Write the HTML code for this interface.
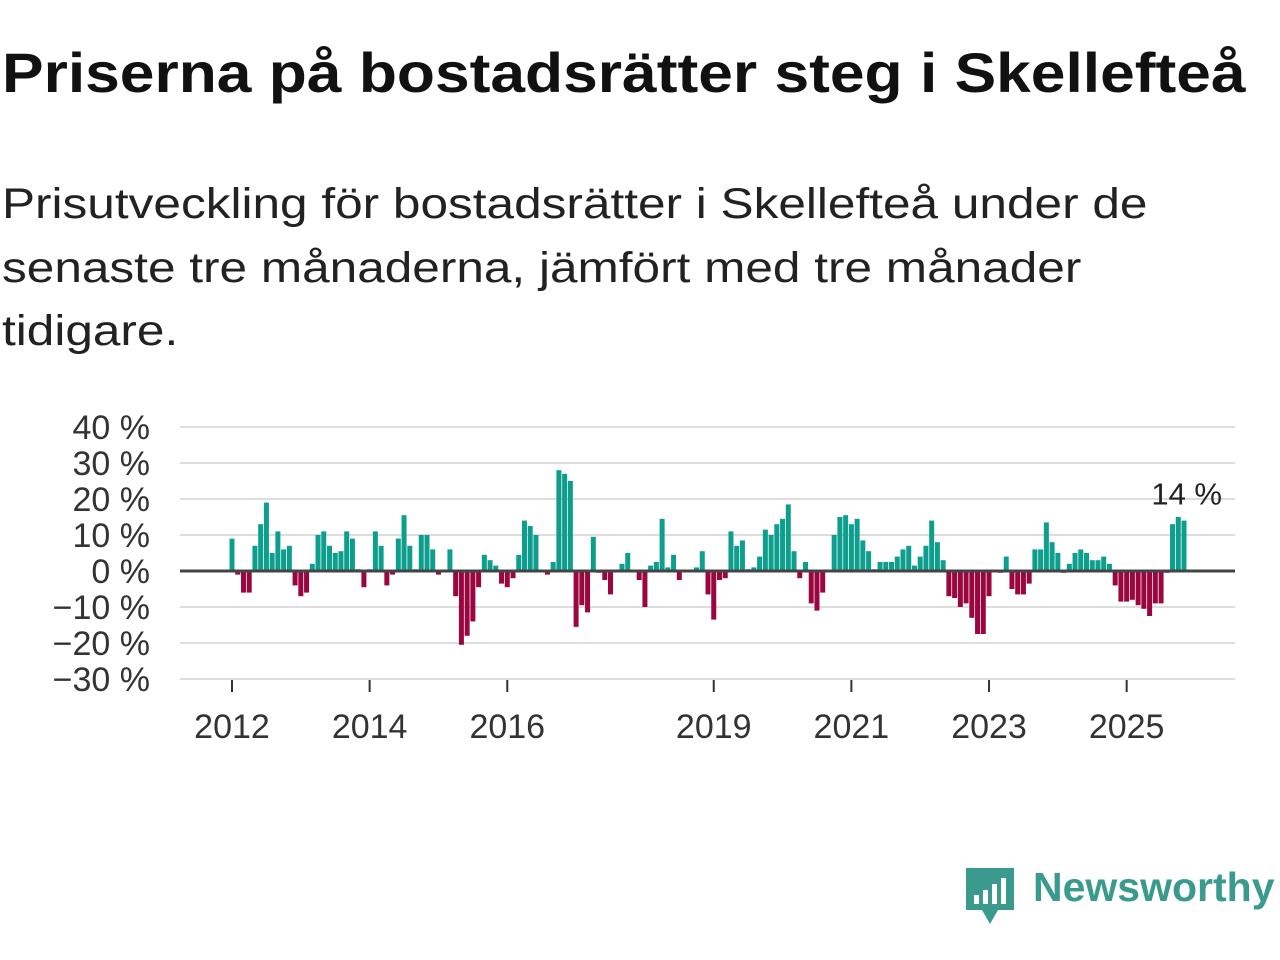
<!DOCTYPE html>
<html><head><meta charset="utf-8"><style>
body{margin:0;width:1280px;height:960px;background:#fff;font-family:"Liberation Sans","DejaVu Sans",sans-serif;overflow:hidden;position:relative}
h1{position:absolute;left:2px;top:40px;margin:0;font-size:56px;font-weight:bold;color:#111;white-space:nowrap;transform:scaleX(1.113);transform-origin:left top}
.sub{position:absolute;left:2px;margin:0;font-size:43px;color:#222;white-space:nowrap;transform:scaleX(1.152);transform-origin:left top}
svg{position:absolute;left:0;top:0}
.logo{position:absolute;left:1033px;top:864px;font-size:41px;color:#3a9a8e;font-weight:bold}
</style></head><body>
<h1>Priserna på bostadsrätter steg i Skellefteå</h1>
<div>
<p class="sub" style="top:180px">Prisutveckling för bostadsrätter i Skellefteå under de</p>
<p class="sub" style="top:244px">senaste tre månaderna, jämfört med tre månader</p>
<p class="sub" style="top:307px">tidigare.</p>
</div>
<svg id="chart" width="1280" height="960"></svg>
<svg width="1280" height="960" style="pointer-events:none">
<path d="M966 868 h48 v42 h-16 l-8 14 l-8 -14 h-16 z" fill="#3a9a8e"/>
<rect x="974" y="895" width="5" height="9" fill="#fff"/><rect x="983" y="890" width="5" height="14" fill="#fff"/><rect x="992" y="884" width="5" height="20" fill="#fff"/><rect x="1001" y="878" width="5" height="26" fill="#fff"/>
</svg>
<div class="logo">Newsworthy</div>
<script>
const values=[9,-1,-6,-6,7,13,19,5,11,6,7,-4,-7,-6,2,10,11,7,5,5.5,11,9,0.5,-4.5,0.5,11,7,-4,-1,9,15.5,7,0.5,10,10,6,-1,0,6,-7,-20.5,-18,-14,-4.5,4.5,3,1.5,-3.5,-4.5,-2,4.5,14,12.5,10,0,-1,2.5,28,27,25,-15.5,-9.5,-11.5,9.5,-0.5,-2.5,-6.5,0,2,5,0,-2.5,-10,1.5,2.5,14.5,1,4.5,-2.5,0,0,1,5.5,-6.5,-13.5,-2.5,-2,11,7,8.5,0.5,1,4,11.5,10,13,14.5,18.5,5.5,-2,2.5,-9,-11,-6,0,10,15,15.5,13,14.5,8.5,5.5,0.5,2.5,2.5,2.5,4,6,7,1.5,4,7,14,8,3,-7,-7.5,-10,-9,-13,-17.5,-17.5,-7,0,-0.5,4,-5,-6.5,-6.5,-3.5,6,6,13.5,8,5,-0.5,2,5,6,5,3,3,4,2,-4,-8.5,-8.5,-8,-9.5,-10.5,-12.5,-9,-9,-0.5,13,15,14];
const yTicks=[40,30,20,10,0,-10,-20,-30];
const yTickLabels=["40 %","30 %","20 %","10 %","0 %","−10 %","−20 %","−30 %"];
const xYears=[2012,2014,2016,2019,2021,2023,2025];
const startYear=2012;
const lastLabel="14 %";
const svg=document.getElementById('chart');const NS="http://www.w3.org/2000/svg";
const y=v=>571-v*3.6;
const xm=i=>232+i*5.735;
function el(t,a){const e=document.createElementNS(NS,t);for(const k in a)e.setAttribute(k,a[k]);svg.appendChild(e);return e;}
yTicks.forEach((t,j)=>{
 const g=el('line',{x1:180,x2:1235,y1:y(t),y2:y(t),stroke:'#ddd','stroke-width':2});
 
 
 const tx=el('text',{x:150,y:y(t)+12,'text-anchor':'end','font-size':34,fill:'#333'});tx.textContent=yTickLabels[j];
 
 
});
xYears.forEach(yr=>{
 const x=xm((yr-startYear)*12);
 const t=el('line',{x1:x,x2:x,y1:680,y2:692,stroke:'#333','stroke-width':2});
 
 
 const tx=el('text',{x:x,y:738,'text-anchor':'middle','font-size':34,fill:'#333'});tx.textContent=yr;
 
 
});
values.forEach((v,i)=>{
 const r=el('rect',{x:xm(i)-2.5,width:5,y:Math.min(y(v),y(0)),height:Math.abs(y(v)-y(0)),fill:v>=0?'#0d9e8e':'#9a0640'});
 
 
});
const z=el('line',{x1:180,x2:1235,y1:y(0),y2:y(0),stroke:'#444','stroke-width':3});


const li=values.length-1;
const lb=el('text',{x:xm(li)+38,y:y(values[li])-16,'text-anchor':'end','font-size':31,fill:'#222'});lb.textContent=lastLabel;


</script>
</body></html>
